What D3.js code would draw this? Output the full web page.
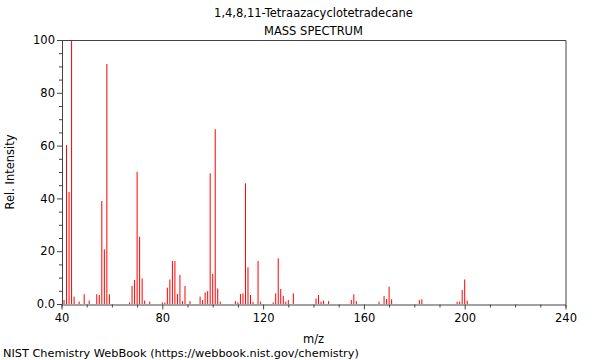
<!DOCTYPE html>
<html>
<head>
<meta charset="utf-8">
<script src="https://cdn.jsdelivr.net/npm/d3@7"></script>
<style>
  body { margin: 0; background: #fff; }
  svg { display: block; font-family: "DejaVu Sans", sans-serif; }
</style>
</head>
<body>
<div id="chart"></div>
<script>
const WIDTH = 600;
const HEIGHT = 360;
const FONT_SIZE = "11.5px";

const TITLE = "1,4,8,11-Tetraazacyclotetradecane";
const SUBTITLE = "MASS SPECTRUM";
const X_LABEL = "m/z";
const Y_LABEL = "Rel. Intensity";
const FOOTER = "NIST Chemistry WebBook (https://webbook.nist.gov/chemistry)";

// peaks
const mz = [41, 42, 43, 44, 45, 47, 49, 51, 54, 55, 56, 57, 58, 59,
  67, 68, 69, 70, 71, 72, 73, 75,
  80, 81, 82, 83, 84, 85, 86, 87, 88, 89, 91,
  95, 96, 97, 98, 99, 100, 101, 102, 103,
  109, 110, 111, 112, 113, 114, 115, 116, 118, 119,
  124, 125, 126, 127, 128, 129, 130, 132,
  141, 142, 143, 144, 146, 155, 156, 157,
  166, 168, 169, 170, 171, 182, 183,
  197, 198, 199, 200, 201];
const intensity = [1.5, 60.2, 42.4, 100, 2.8, 0.9, 3.7, 1.3, 3.7, 3.4, 39.0, 20.7, 90.9, 3.7,
  0.6, 6.9, 9.1, 50.1, 25.5, 9.7, 1.3, 0.9,
  0.6, 0.6, 6.2, 9.3, 16.3, 16.3, 3.8, 11.0, 1.1, 6.8, 1.1,
  2.8, 1.5, 4.4, 4.9, 49.5, 11.4, 66.2, 5.9, 0.9,
  1.1, 0.6, 3.8, 4.0, 45.7, 13.9, 3.4, 0.8, 16.3, 0.9,
  0.6, 4.0, 17.3, 5.7, 3.1, 0.9, 1.5, 4.0,
  2.1, 3.4, 0.9, 1.3, 1.1, 1.5, 3.7, 1.1,
  0.9, 3.0, 1.9, 6.6, 1.8, 1.5, 1.8,
  0.9, 0.9, 5.3, 9.3, 1.3];

const xMajor = [40, 80, 120, 160, 200, 240];
const yMajor = [0, 20, 40, 60, 80, 100];
const yTickLabels = ["0.0", "20", "40", "60", "80", "100"];

const margin = {top: 40, right: 34, bottom: 56, left: 62};
const plotW = WIDTH - margin.left - margin.right;
const plotH = HEIGHT - margin.top - margin.bottom;

const svg = d3.select("#chart").append("svg")
    .attr("width", WIDTH)
    .attr("height", HEIGHT);

const xScale = d3.scaleLinear().domain([40, 240]).range([margin.left - 0.5, margin.left + plotW - 0.5]);
const yScale = d3.scaleLinear().domain([0, 100]).range([margin.top + plotH, margin.top]);

// titles
svg.append("text")
    .attr("x", xScale(140)).attr("y", 17)
    .attr("text-anchor", "middle")
    .style("font-size", FONT_SIZE)
    .text(TITLE);
svg.append("text")
    .attr("x", xScale(140)).attr("y", 35)
    .attr("text-anchor", "middle")
    .style("font-size", FONT_SIZE)
    .text(SUBTITLE);

// peaks, 1px wide sticks
const peaks = d3.zip(mz, intensity);
svg.append("g").attr("class", "peaks").selectAll("rect")
    .data(peaks)
  .enter().append("rect")
    .attr("x", d => xScale(d[0]) - 0.5)
    .attr("width", 1)
    .attr("y", d => yScale(d[1]))
    .attr("height", d => yScale(0) - yScale(d[1]))
    .attr("fill", "#ff0000");

// x axis
const xAxis = d3.axisBottom(xScale)
    .tickValues(d3.range(40, 241, 10))
    .tickSize(3)
    .tickFormat(d => xMajor.includes(d) ? d : "");
const xG = svg.append("g")
    .attr("transform", "translate(0," + (yScale(0) + 0.5) + ")")
    .call(xAxis);
xG.selectAll(".tick line")
    .attr("y2", d => xMajor.includes(d) ? 5 : 3);

// y axis
const yAxis = d3.axisLeft(yScale)
    .tickValues(d3.range(0, 101, 5))
    .tickSize(3)
    .tickFormat(d => yMajor.includes(d) ? yTickLabels[yMajor.indexOf(d)] : "");
const yG = svg.append("g")
    .attr("transform", "translate(" + (xScale(40) + 0.5) + ",0)")
    .call(yAxis);
yG.selectAll(".tick line")
    .attr("x2", d => yMajor.includes(d) ? -5 : -3);

[xG, yG].forEach(g => {
  g.select(".domain").attr("stroke", "#444");
  g.selectAll(".tick line").attr("stroke", "#444");
  g.selectAll(".tick text")
      .style("font-size", FONT_SIZE)
      .style("font-family", "DejaVu Sans, sans-serif")
      .attr("fill", "#000");
});
xG.selectAll(".tick text").attr("y", 9);
yG.selectAll(".tick text").attr("x", -7);

// top + right frame
svg.append("path")
    .attr("d", "M" + (xScale(40) + 0.5) + "," + (yScale(100) + 0.5) +
               "H" + (xScale(240) + 0.5) + "V" + (yScale(0) + 0.5))
    .attr("fill", "none")
    .attr("stroke", "#444");

// axis labels
svg.append("text")
    .attr("x", xScale(140)).attr("y", 343)
    .attr("text-anchor", "middle")
    .style("font-size", FONT_SIZE)
    .text(X_LABEL);
svg.append("text")
    .attr("transform", "translate(14," + yScale(50) + ") rotate(-90)")
    .attr("text-anchor", "middle")
    .style("font-size", FONT_SIZE)
    .text(Y_LABEL);

// footer
svg.append("text")
    .attr("x", 3).attr("y", 357)
    .style("font-size", "11.3px")
    .text(FOOTER);
</script>
</body>
</html>
